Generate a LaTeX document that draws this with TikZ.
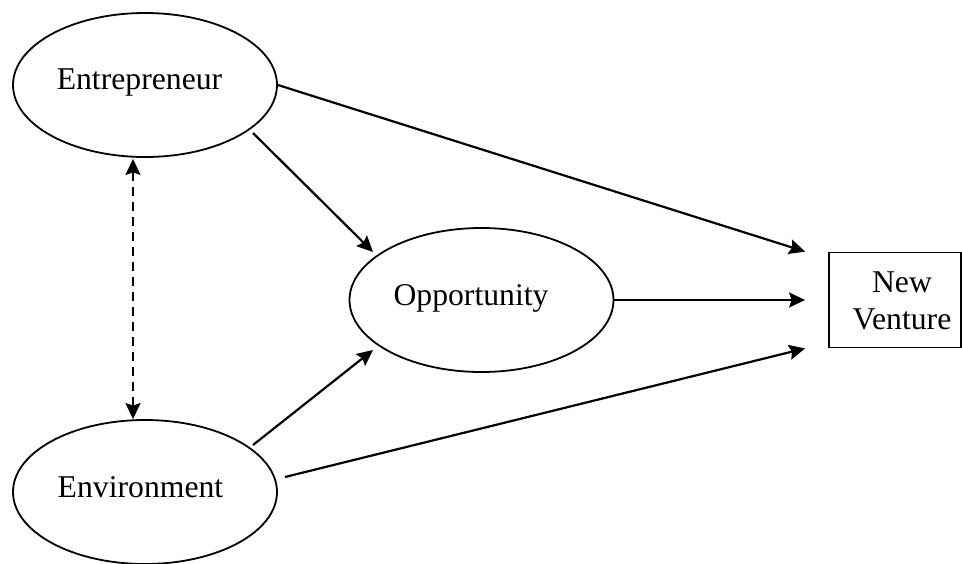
\documentclass[tikz,border=0pt]{standalone}
\usepackage{fontspec}
\setmainfont{Liberation Serif}
\usetikzlibrary{shapes.geometric,arrows.meta,calc}
\tikzset{
  oval/.style={draw=black, ellipse, line width=1.8pt, minimum width=264pt, minimum height=144pt, inner sep=0pt},
  boxnode/.style={draw=black, rectangle, line width=1.8pt, minimum width=132pt, minimum height=95pt, inner sep=0pt},
  lbl/.style={font=\fontsize{31.7}{36.5}\selectfont, inner sep=0pt},
  tip/.tip={Stealth[length=16pt, width=15pt, inset=2.5pt]},
  arr/.style={line width=2.2pt, -tip},
  dasharr/.style={line width=2.2pt, dash pattern=on 9pt off 6pt, tip-tip}
}
\begin{document}
\begin{tikzpicture}[x=1pt,y=-1pt]
\useasboundingbox (0,0) rectangle (962,563);
\node[oval] (ent) at (145,85) {};
\node[oval] (env) at (145,492) {};
\node[oval] (opp) at (481.5,300) {};
\node[boxnode] (nv) at (895,300) {};
\node[lbl, anchor=base] (entl) at (139.5,89) {Entrepreneur};
\node[lbl, anchor=base] (envl) at (140.5,497) {Environment};
\node[lbl, anchor=base] (oppl) at (471,305) {Opportunity};
\node[lbl, align=center, anchor=center] (nvl) at (902,301) {New\\Venture};
\draw[arr] (ent.east) -- ($(nv.north west)+(-23,0)$);
\draw[arr] ($(ent.center)+(108,48)$) -- ($(opp.center)+(-108.5,-48)$);
\draw[arr] (opp.east) -- ($(nv.west)+(-23,0)$);
\draw[arr] ($(env.center)+(108,-47)$) -- ($(opp.center)+(-108.5,50)$);
\draw[arr] ($(env.center)+(140,-15)$) -- ($(nv.south west)+(-23,0)$);
\draw[dasharr] ($(ent.south)+(-12,1)$) -- ($(env.north)+(-12,0)$);
\end{tikzpicture}
\end{document}
